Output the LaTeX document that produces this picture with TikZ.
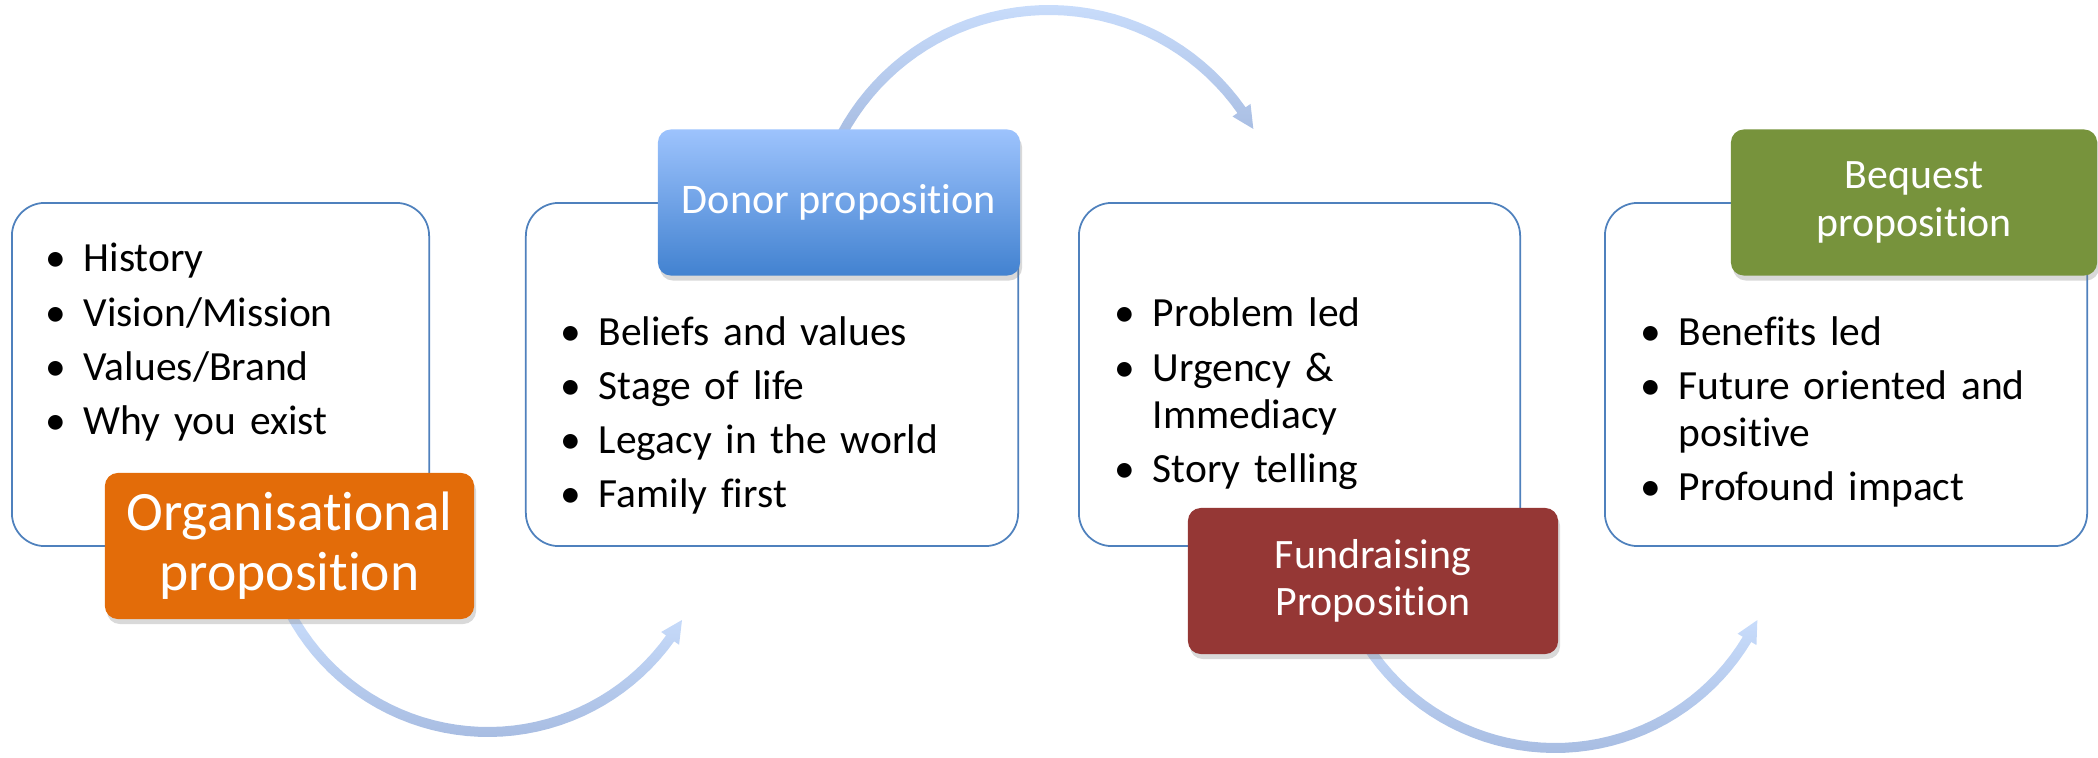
\documentclass[tikz,border=0pt]{standalone}
\usepackage{fontspec}
\setmainfont{Carlito}[Ligatures=NoCommon]
\usetikzlibrary{shadows}

\definecolor{panelblue}{HTML}{4F81BD}
\definecolor{orgorange}{HTML}{E36C09}
\definecolor{fundred}{HTML}{953735}
\definecolor{bequestgreen}{HTML}{77933C}
\definecolor{donortop}{HTML}{9DC3FD}
\definecolor{donorbottom}{HTML}{4282D0}
\definecolor{arrowlight}{HTML}{C8DCFB}
\definecolor{arrowdark}{HTML}{A8BDE2}

\tikzset{
  panel/.style={draw=panelblue, line width=0.5pt, fill=white, rounded corners=0.33cm, inner sep=0pt, minimum height=3.43cm},
  tag/.style={rounded corners=0.13cm, text=white, align=center, inner sep=0pt, minimum height=1.46cm,
    drop shadow={shadow xshift=0.02cm, shadow yshift=-0.05cm, opacity=0.3}},
  items/.style={anchor=base west, inner sep=0pt, text width=4cm, align=left, font=\fontsize{11.8}{13.4}\selectfont},
}
\newcommand{\bul}{\leavevmode\llap{\textbullet\hspace{5pt}}}
% centre x, centre y, radius, start angle, head base angle, tip angle
\newcommand{\sweeparrow}[6]{%
  \shade[top color=arrowlight, bottom color=arrowdark]
    plot[domain=#4:#5, samples=40] ({#1+(#3+5)*cos(\x)},{#2+(#3+5)*sin(\x)})
    -- ({#1+(#3+11)*cos(#5)},{#2+(#3+11)*sin(#5)})
    -- ({#1+#3*cos(#6)},{#2+#3*sin(#6)})
    -- ({#1+(#3-11)*cos(#5)},{#2+(#3-11)*sin(#5)})
    -- plot[domain=#5:#4, samples=40] ({#1+(#3-5)*cos(\x)},{#2+(#3-5)*sin(\x)})
    -- cycle;}

\begin{document}
\begin{tikzpicture}[x=0.01cm, y=-0.01cm]
\useasboundingbox (0,0) rectangle (2098,758);

\node[panel, minimum width=4.17cm] (orgbox) at (220.5,374.5) {};
\node[panel, minimum width=4.92cm] (donorbox) at (772,374.5) {};
\node[panel, minimum width=4.41cm] (fundbox) at (1299.5,374.5) {};
\node[panel, minimum width=4.82cm] (bequestbox) at (1846,374.5) {};

\node[items] (orglist) at (83,272) {\bul History\\[2pt]\bul Vision/Mission\\[2pt]\bul Values/Brand\\[2pt]\bul Why you exist};
\node[items] (donorlist) at (598,345) {\bul Beliefs and values\\[2pt]\bul Stage of life\\[2pt]\bul Legacy in the world\\[2pt]\bul Family first};
\node[items] (fundlist) at (1152,327) {\bul Problem led\\[2pt]\bul Urgency \&\\Immediacy\\[2pt]\bul Story telling};
\node[items] (bequestlist) at (1678,345) {\bul Benefits led\\[2pt]\bul Future oriented and\\positive\\[2pt]\bul Profound impact};

\sweeparrow{488}{508}{224}{152}{35.6}{30}
\sweeparrow{1049}{245}{235}{208}{325}{330.4}
\sweeparrow{1555}{524}{224}{147}{31}{25.4}

\node[tag, fill=orgorange, minimum width=3.69cm, font=\fontsize{15.8}{17.1}\selectfont] (org) at (289.5,546) {Organisational\\proposition};
\node[tag, top color=donortop, bottom color=donorbottom, minimum width=3.62cm, font=\fontsize{12}{14}\selectfont] (donor) at (839,202.5) {Donor proposition};
\node[tag, fill=fundred, minimum width=3.70cm, font=\fontsize{11.9}{13.4}\selectfont] (fund) at (1373,581) {Fundraising\\Proposition};
\node[tag, fill=bequestgreen, minimum width=3.66cm, font=\fontsize{11.9}{13.4}\selectfont] (bequest) at (1914,202.5) {Bequest\\proposition};
\end{tikzpicture}
\end{document}
